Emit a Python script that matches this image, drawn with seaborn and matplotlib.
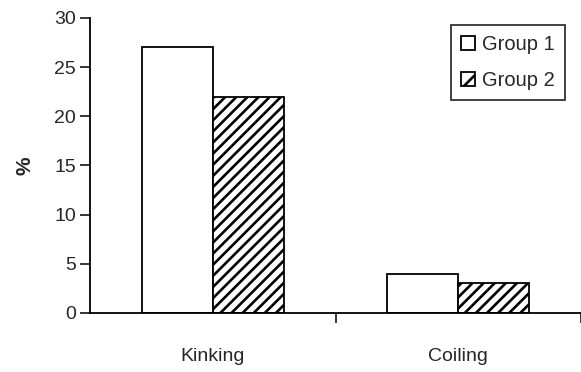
import matplotlib
matplotlib.use("Agg")
import matplotlib.pyplot as plt
import seaborn as sns
import pandas as pd

categories = ["Kinking", "Coiling"]
groups = ["Group 1", "Group 2"]
group1_values = [27, 4]
group2_values = [22, 3]
y_ticks = [0, 5, 10, 15, 20, 25, 30]

df = pd.DataFrame({
    "category": categories * 2,
    "group": [groups[0]] * 2 + [groups[1]] * 2,
    "value": group1_values + group2_values,
})

sns.set_style("white")
plt.rcParams["font.family"] = ["Liberation Sans", "DejaVu Sans"]
plt.rcParams["hatch.linewidth"] = 1.9

fig = plt.figure(figsize=(5.81, 3.72), dpi=100)
ax = fig.add_axes([0.155, 0.159, 0.845, 0.793])

sns.barplot(data=df, x="category", y="value", hue="group", order=categories,
            hue_order=groups, palette=["white", "white"], width=0.58,
            edgecolor="black", linewidth=1.3, ax=ax, legend=True)

n = len(categories)
for i, patch in enumerate(ax.patches[: 2 * n]):
    if i >= n:
        patch.set_hatch("///")
    patch.set_edgecolor("black")
    patch.set_facecolor("white")

ax.set_xlim(-0.5, 1.5)
ax.set_ylim(0, 30)
ax.set_yticks(y_ticks)
ax.set_ylabel("%", fontsize=15, fontweight="bold", labelpad=14)
ax.set_xlabel("")

for s in ["top", "right"]:
    ax.spines[s].set_visible(False)
for s in ["left", "bottom"]:
    ax.spines[s].set_color("black")
    ax.spines[s].set_linewidth(1.3)

ax.tick_params(axis="y", left=True, length=7, width=1.3, labelsize=14, pad=3)
ax.tick_params(axis="x", bottom=False, labelsize=14, pad=22)
ax.set_xticks([0.5, 1.5], minor=True)
ax.tick_params(axis="x", which="minor", bottom=True, length=7, width=1.3)

handles, labels = ax.get_legend_handles_labels()
if ax.get_legend():
    ax.get_legend().remove()
for j, h in enumerate(handles):
    h.set_facecolor("white")
    h.set_edgecolor("black")
    if j == 1:
        h.set_hatch("//")
leg = ax.legend(handles, labels, loc="upper left", bbox_to_anchor=(0.735, 0.976),
                frameon=True, fancybox=False, edgecolor="black", fontsize=14.5,
                handlelength=0.7, handleheight=0.7, handletextpad=0.35,
                borderpad=0.5, labelspacing=0.85, borderaxespad=0)
leg.get_frame().set_linewidth(1.3)

fig.savefig("out.png", dpi=100)
